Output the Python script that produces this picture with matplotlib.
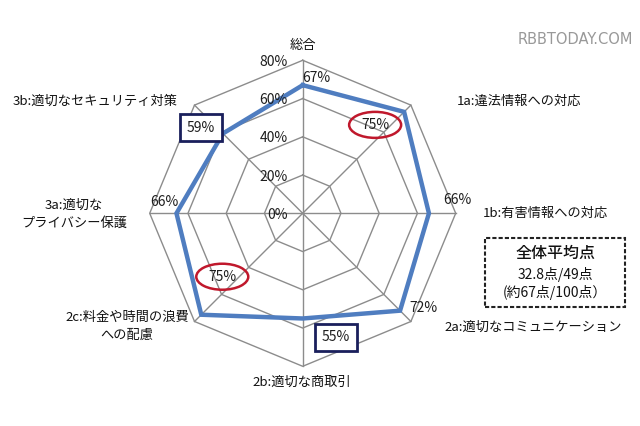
import numpy as np
import matplotlib
matplotlib.use("Agg")
import matplotlib.pyplot as plt
from matplotlib.patches import Ellipse, Rectangle
from matplotlib.transforms import IdentityTransform

plt.rcParams['font.family'] = ['Noto Sans CJK JP', 'DejaVu Sans']

# ---- data ----
categories = ["総合", "1a:違法情報への対応", "1b:有害情報への対応",
              "2a:適切なコミュニケーション", "2b:適切な商取引",
              "2c:料金や時間の浪費\nへの配慮", "3a:適切な\nプライバシー保護",
              "3b:適切なセキュリティ対策"]
values = [67, 75, 66, 72, 55, 75, 66, 59]
ring_levels = [0, 20, 40, 60, 80]
ring_labels = ["0%", "20%", "40%", "60%", "80%"]
info_lines = ["全体平均点", "32.8点/49点", "(約67点/100点）"]
watermark = "RBBTODAY.COM"

W, H = 640, 426
fig = plt.figure(figsize=(6.4, 4.26), dpi=100)
fig.patch.set_facecolor("white")

cx, cy, R = 302.7, 213.3, 153.0
ax = fig.add_axes([(cx - R) / W, (H - cy - R) / H, 2 * R / W, 2 * R / H],
                  projection='polar')
ax.set_theta_zero_location('N')
ax.set_theta_direction(-1)
ax.set_ylim(0, 80)
ax.grid(False)
ax.set_xticks([])
ax.set_yticks([])
ax.spines['polar'].set_visible(False)
ax.patch.set_alpha(0)

n = len(categories)
theta = np.arange(n) * 2 * np.pi / n
theta_c = np.append(theta, theta[0])

gridc = "#8c8c8c"
for lvl in ring_levels[1:]:
    ax.plot(theta_c, [lvl] * (n + 1), color=gridc, lw=1.0, clip_on=False, zorder=1)
for t in theta:
    ax.plot([t, t], [0, ring_levels[-1]], color=gridc, lw=1.0, clip_on=False, zorder=1)

vals_c = values + values[:1]
ax.plot(theta_c, vals_c, color="#4F7DC0", lw=3.2, clip_on=False, zorder=3,
        solid_joinstyle='miter')

# ring labels
for lvl, lab in zip(ring_levels, ring_labels):
    ax.annotate(lab, xy=(0, lvl), xytext=(-15, -1.5), textcoords='offset pixels',
                ha='right', va='center', fontsize=10, color="#1e1e1e", zorder=4,
                annotation_clip=False)

# value labels: offsets (right, down) in pixels from data point; style
offsets = [(14, -7), (-29, 13), (28, -13), (23, -3), (33, 19), (21, -38), (-12, -11), (-22, -6)]
styles = [None, "ellipse", None, None, "box", "ellipse", None, "box"]
for i, (v, (dx, dy), st) in enumerate(zip(values, offsets, styles)):
    x0, y0 = ax.transData.transform((theta[i], v))
    x, y = x0 + dx, y0 - dy
    kw = {}
    if st == "box":
        kw['bbox'] = dict(boxstyle='square,pad=0.5', fc='white', ec='#1a1f5c', lw=2.0)
    ax.text(x, y, f"{v}%", transform=IdentityTransform(), ha='center',
            va='center', fontsize=10, color="#1e1e1e", zorder=5, **kw)
    if st == "ellipse":
        e = Ellipse((x, y), 52, 26, transform=IdentityTransform(), fill=False,
                    ec="#C0182C", lw=1.8, zorder=5)
        fig.add_artist(e)

# category labels (positions in image pixels)
def ftxt(x, y, s, **kw):
    fig.text(x / W, 1 - y / H, s, va='center', fontsize=9.5, color="#111111", **kw)

label_pos = [(302.7, 45, 'center'), (457, 101, 'left'), (483, 213, 'left'),
             (444, 327, 'left'), (302, 382, 'center'), (127, 326, 'center'),
             (74, 214, 'center'), (95, 101.7, 'center')]
for cat, (x, y, ha) in zip(categories, label_pos):
    lines = cat.split("\n")
    k = len(lines)
    for j, ln in enumerate(lines):
        ftxt(x, y + (j - (k - 1) / 2) * 18, ln, ha=ha)

# info box
rect = Rectangle((485 / W, 1 - 306.7 / H), 140 / W, 69 / H, transform=fig.transFigure,
                 fill=False, ec="#222222", lw=1.5, linestyle=(0, (2, 1)))
fig.add_artist(rect)
fig.text(555 / W, 1 - 253 / H, info_lines[0], ha='center', va='center', fontsize=11.5,
         color="#111111", fontweight='medium')
fig.text(555 / W, 1 - 274 / H, info_lines[1], ha='center', va='center', fontsize=10, color="#111111")
fig.text(555 / W, 1 - 292 / H, info_lines[2], ha='center', va='center', fontsize=10, color="#111111")

# watermark
fig.text(575.5 / W, 1 - 40 / H, watermark, ha='center', va='center', fontsize=10.5,
         color="#999999", family='DejaVu Sans')

fig.savefig("out.png", dpi=100)
